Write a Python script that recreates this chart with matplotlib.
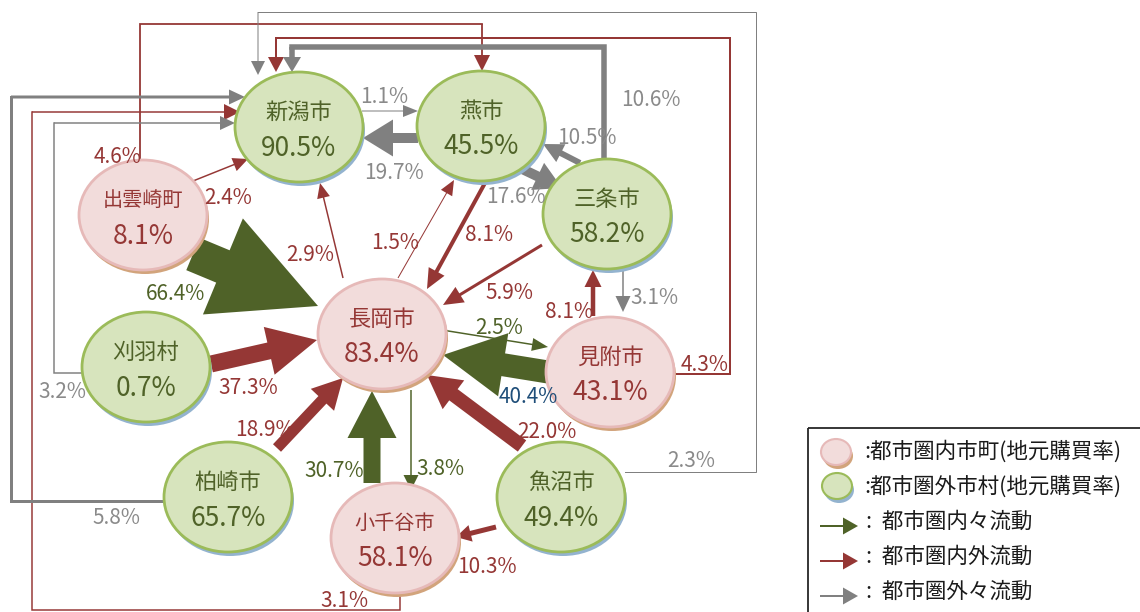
import matplotlib
matplotlib.use('Agg')
import matplotlib.pyplot as plt
from matplotlib.patches import Ellipse, FancyArrow, Rectangle

plt.rcParams['font.family'] = ['Noto Sans CJK JP', 'DejaVu Sans']

# ---- data ----
names = ['新潟市', '燕市', '三条市', '出雲崎町', '長岡市',
         '刈羽村', '見附市', '柏崎市', '小千谷市', '魚沼市']
local_rate = [90.5, 45.5, 58.2, 8.1, 83.4, 0.7, 43.1, 65.7, 58.1, 49.4]
in_area = [False, False, False, True, True, False, True, False, True, False]

flow_src = ['出雲崎町', '見附市', '小千谷市', '長岡市', '長岡市',
            '刈羽村', '柏崎市', '魚沼市', '燕市', '三条市',
            '長岡市', '長岡市', '見附市', '魚沼市', '出雲崎町',
            '出雲崎町', '見附市', '小千谷市',
            '燕市', '新潟市', '燕市', '三条市', '三条市',
            '三条市', '刈羽村', '柏崎市', '魚沼市']
flow_dst = ['長岡市', '長岡市', '長岡市', '見附市', '小千谷市',
            '長岡市', '長岡市', '長岡市', '長岡市', '長岡市',
            '新潟市', '燕市', '三条市', '小千谷市', '新潟市',
            '燕市', '新潟市', '新潟市',
            '新潟市', '燕市', '三条市', '燕市', '新潟市',
            '見附市', '新潟市', '新潟市', '新潟市']
flow_pct = [66.4, 40.4, 30.7, 2.5, 3.8,
            37.3, 18.9, 22.0, 8.1, 5.9,
            2.9, 1.5, 8.1, 10.3, 2.4,
            4.6, 4.3, 3.1,
            19.7, 1.1, 17.6, 10.5, 10.6,
            3.1, 3.2, 5.8, 2.3]
# in: 都市圏内々, cross: 都市圏内外, out: 都市圏外々
flow_kind = ['in'] * 5 + ['cross'] * 13 + ['out'] * 9

legend_labels = [':都市圏内市町(地元購買率)', ':都市圏外市村(地元購買率)',
                 ':  都市圏内々流動', ':  都市圏内外流動', ':  都市圏外々流動']

# ---- layout (pixel coordinates) ----
node_xy = {'新潟市': (299, 127), '燕市': (481, 126), '三条市': (607, 214),
           '出雲崎町': (143, 215), '長岡市': (382, 334), '刈羽村': (146, 367),
           '見附市': (610, 372), '柏崎市': (228, 497), '小千谷市': (395, 538),
           '魚沼市': (561, 497)}
node_r = (64, 55)

routes = [
    [(193, 254), (318, 306)],
    [(548, 372), (443, 355)],
    [(372, 483), (372, 391)],
    [(442, 330), (548, 347)],
    [(411, 390), (411, 490)],
    [(211, 364), (317, 340)],
    [(277, 448), (343, 378)],
    [(522, 446), (427, 375)],
    [(485, 183), (427, 289)],
    [(542, 245), (443, 305)],
    [(343, 278), (320, 183)],
    [(398, 278), (454, 180)],
    [(593, 316), (593, 270)],
    [(496, 527), (456, 537)],
    [(193, 181), (248, 159)],
    [(140, 161), (140, 24), (482, 24), (482, 71)],
    [(673, 374), (730, 374), (730, 38), (276, 38), (276, 72)],
    [(400, 593), (400, 610), (32, 610), (32, 112), (240, 112)],
    [(418, 138), (363, 138)],
    [(362, 111), (418, 111)],
    [(518, 167), (562, 188)],
    [(580, 163), (543, 144)],
    [(604, 158), (604, 47), (292, 47), (292, 72)],
    [(623, 270), (623, 312)],
    [(82, 373), (54, 373), (54, 123), (235, 123)],
    [(163, 501), (11, 501), (11, 97), (245, 97)],
    [(625, 472), (756, 472), (756, 12), (258, 12), (258, 75)],
]
# shaft width, head width, head length
sizes = [(35, 104, 103), (23, 64, 61), (17, 49, 47), (1.5, 13, 16), (1.5, 15, 15),
         (17, 49, 49), (11, 32, 30), (14, 36, 33), (4, 18, 20), (3, 18, 20),
         (1.5, 13, 15), (1, 13, 15), (4.5, 17, 17), (5, 17, 15), (1.5, 14, 15),
         (1.8, 16, 16), (2, 16, 15), (1.5, 16, 16),
         (10, 37, 30), (1, 12, 15), (10, 30, 27), (6, 20, 20), (5.5, 18, 15),
         (1.5, 15, 16), (1.5, 14, 15), (3, 15, 16), (1, 14, 14)]
label_xy = [(176, 294), (528, 397), (334, 471), (499, 328), (440, 469),
            (248, 388), (265, 430), (547, 432), (489, 235), (509, 293),
            (310, 255), (395, 243), (569, 312), (487, 567), (228, 198),
            (118, 157), (705, 365), (344, 601),
            (394, 173), (384, 97), (516, 197), (587, 138), (651, 100),
            (654, 298), (62, 392), (116, 518), (691, 461)]

kind_color = {'in': '#4F6228', 'cross': '#953735', 'out': '#808080'}
label_color = {'in': '#4F6228', 'cross': '#953735', 'out': '#8A8A8A'}
pink = dict(fill='#F2DCDB', edge='#E6B9B8', shadow='#D2A47C', text='#953735')
green = dict(fill='#D7E4BD', edge='#9BBB59', shadow='#93B3CF', text='#4F6228')

fig = plt.figure(figsize=(11.4, 6.12), dpi=100)
ax = fig.add_axes([0, 0, 1, 1])
ax.set_xlim(0, 1140)
ax.set_ylim(612, 0)
ax.axis('off')


def draw_route(ax, pts, w, hw, hl, color):
    if len(pts) > 2:
        ax.plot([p[0] for p in pts[:-1]], [p[1] for p in pts[:-1]], color=color,
                lw=w * 0.72, solid_joinstyle='miter', solid_capstyle='projecting',
                zorder=2)
    (x0, y0), (x1, y1) = pts[-2], pts[-1]
    ax.add_patch(FancyArrow(x0, y0, x1 - x0, y1 - y0, width=w, head_width=hw,
                            head_length=hl, length_includes_head=True,
                            color=color, lw=0, zorder=2))


for i in range(len(flow_pct)):
    c = kind_color[flow_kind[i]]
    w, hw, hl = sizes[i]
    draw_route(ax, routes[i], w, hw, hl, c)
    tc = label_color[flow_kind[i]]
    if flow_src[i] == '見附市' and flow_dst[i] == '長岡市':
        tc = '#1F4E79'
    ax.text(label_xy[i][0], label_xy[i][1], f'{flow_pct[i]:.1f}%', color=tc,
            fontsize=15, ha='center', va='center', zorder=6)


def draw_node(ax, x, y, rx, ry, st, lw=2.0):
    ax.add_patch(Ellipse((x + 2, y + 4), 2 * rx, 2 * ry, facecolor=st['shadow'],
                         edgecolor='none', zorder=3))
    ax.add_patch(Ellipse((x, y), 2 * rx, 2 * ry, facecolor=st['fill'],
                         edgecolor=st['edge'], lw=lw, zorder=4))


for name, rate, inside in zip(names, local_rate, in_area):
    x, y = node_xy[name]
    st = pink if inside else green
    draw_node(ax, x, y, node_r[0], node_r[1], st)
    fs = 16 if len(name) <= 3 else 14.5
    ax.text(x, y - 15, name, color=st['text'], fontsize=fs, ha='center',
            va='center', zorder=5)
    ax.text(x, y + 21, f'{rate:.1f}%', color=st['text'], fontsize=19,
            ha='center', va='center', zorder=5)

# legend
ax.add_patch(Rectangle((808, 428), 345, 195, fill=False, edgecolor='#262626',
                       lw=1.3, zorder=6))
draw_node(ax, 836, 452, 15, 13, pink, lw=1.5)
draw_node(ax, 837, 486, 15, 13, green, lw=1.5)
for k, yy in zip(['in', 'cross', 'out'], [526, 561, 596]):
    ax.add_patch(FancyArrow(820, yy, 38, 0, width=2, head_width=17, head_length=15,
                            length_includes_head=True, color=kind_color[k], lw=0,
                            zorder=7))
for lab, yy, xx in zip(legend_labels, [452, 487, 522, 557, 592],
                       [864, 864, 866, 866, 866]):
    ax.text(xx, yy, lab, fontsize=15.5, color='#1A1A1A', ha='left', va='center',
            zorder=7)

fig.savefig('out.png', dpi=100)
